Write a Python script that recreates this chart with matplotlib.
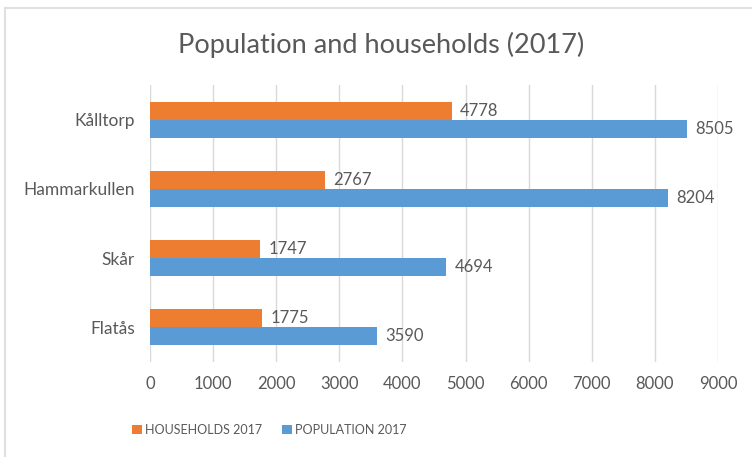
import matplotlib
matplotlib.use("Agg")
import matplotlib.pyplot as plt
from matplotlib.lines import Line2D
from matplotlib.patches import Patch
import numpy as np

categories = ["Kålltorp", "Hammarkullen", "Skår", "Flatås"]
households = [4778, 2767, 1747, 1775]
population = [8505, 8204, 4694, 3590]
series_names = ["HOUSEHOLDS 2017", "POPULATION 2017"]
xticks = [0, 1000, 2000, 3000, 4000, 5000, 6000, 7000, 8000, 9000]

ORANGE = "#ED7D31"
BLUE = "#5B9BD5"
TEXT = "#595959"
GRID = "#D9D9D9"

plt.rcParams['font.family'] = ['Lato', 'DejaVu Sans']

fig = plt.figure(figsize=(7.52, 4.57), dpi=100)
ax = fig.add_axes([150/752, 1-362/457, 568/752, 277/457])

n = len(categories)
y = np.arange(n)[::-1].astype(float)
h = 0.26
b1 = ax.barh(y + h/2, households, height=h, color=ORANGE, zorder=3)
b2 = ax.barh(y - h/2, population, height=h, color=BLUE, zorder=3)

for bars, vals in ((b1, households), (b2, population)):
    for bar, v in zip(bars, vals):
        ax.annotate(f"{v}", (v, bar.get_y() + bar.get_height()/2),
                    xytext=(6, 0), textcoords="offset points",
                    ha="left", va="center", fontsize=12, color=TEXT,
                    annotation_clip=False)

ax.set_xlim(0, 9000)
ax.set_ylim(-0.5, n - 0.5)
ax.set_xticks(xticks)
ax.set_xticklabels([str(t) for t in xticks], fontsize=12, color=TEXT)
ax.set_yticks(y)
ax.set_yticklabels(categories, fontsize=12.5, color=TEXT)
ax.tick_params(axis="both", length=0)
ax.tick_params(axis="x", pad=10)
ax.tick_params(axis="y", pad=11)
ax.grid(axis="x", color=GRID, linewidth=1, zorder=0)
for s in ax.spines.values():
    s.set_visible(False)

fig.text(381/752, 1-45/457, "Population and households (2017)",
         ha="center", va="center", fontsize=19.5, color=TEXT)

handles = [Patch(facecolor=ORANGE), Patch(facecolor=BLUE)]
fig.legend(handles, series_names, loc="center", bbox_to_anchor=(269/752, 1-430/457),
           ncol=2, frameon=False, fontsize=9, labelcolor=TEXT,
           handlelength=0.8, handleheight=0.8, handletextpad=0.25, columnspacing=1.6)

# chart frame (partially visible)
fig.add_artist(Line2D([5/752, 1], [1-8/457, 1-8/457], color="#E0E0E0", lw=1.5))
fig.add_artist(Line2D([5/752, 5/752], [0, 1-8/457], color="#E0E0E0", lw=1.5))

fig.savefig("out.png", dpi=100)
